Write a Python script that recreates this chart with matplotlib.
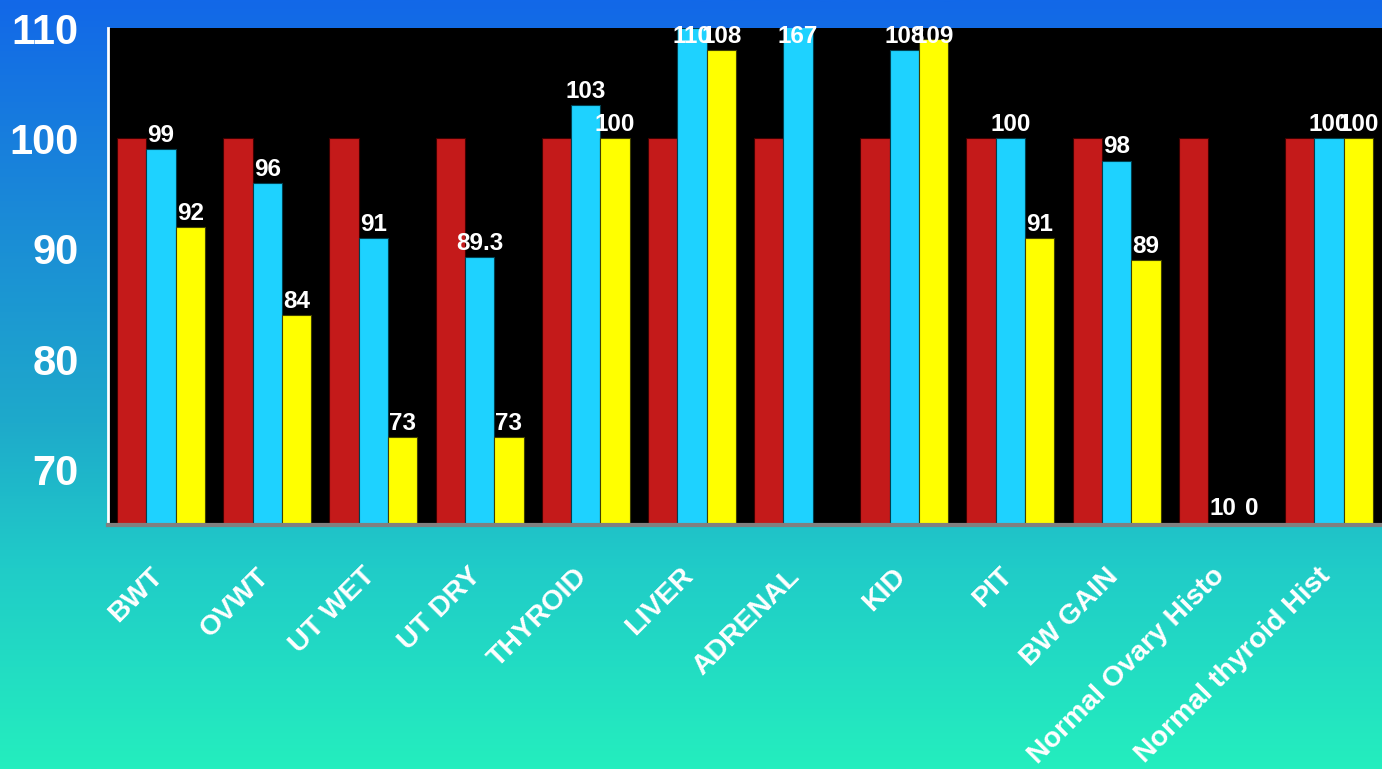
import numpy as np
import matplotlib
matplotlib.use("Agg")
import matplotlib.pyplot as plt
from matplotlib.colors import LinearSegmentedColormap
import matplotlib.transforms as mtransforms
from matplotlib import font_manager as fm

# pick regular-width Liberation Sans Bold explicitly
bold_path = None
for f in fm.fontManager.ttflist:
    if f.name == 'Liberation Sans' and f.weight in (700, 'bold') and f.style == 'normal' \
            and 'Narrow' not in f.fname:
        bold_path = f.fname
        break

def fp(size):
    if bold_path:
        return dict(fontproperties=fm.FontProperties(fname=bold_path, size=size))
    return dict(family='DejaVu Sans', fontweight='bold', fontsize=size)

categories = ["BWT", "OVWT", "UT WET", "UT DRY", "THYROID", "LIVER", "ADRENAL",
              "KID", "PIT", "BW GAIN", "Normal Ovary Histo", "Normal thyroid Hist"]
control = [100, 100, 100, 100, 100, 100, 100, 100, 100, 100, 100, 100]
series_b = [99, 96, 91, 89.3, 103, 110, 167, 108, 100, 98, 10, 100]
series_c = [92, 84, 73, 73, 100, 108, None, 109, 91, 89, 0, 100]
b_labels = ["99", "96", "91", "89.3", "103", "110", "167", "108", "100", "98", "10", "100"]
c_labels = ["92", "84", "73", "73", "100", "108", "", "109", "91", "89", "0", "100"]
yticks = [70, 80, 90, 100, 110]

W, H = 1382, 769
fig = plt.figure(figsize=(W / 100, H / 100), dpi=100)

# gradient background
bg = fig.add_axes([0, 0, 1, 1], zorder=0)
stops = [(0.0, (18/255, 104/255, 232/255)),
         (0.26, (26/255, 136/255, 216/255)),
         (0.55, (30/255, 170/255, 203/255)),
         (0.74, (32/255, 204/255, 200/255)),
         (1.0, (36/255, 238/255, 190/255))]
cmap = LinearSegmentedColormap.from_list("bgg", stops)
grad = np.linspace(0, 1, 512).reshape(-1, 1)
bg.imshow(grad, aspect='auto', cmap=cmap, extent=[0, 1, 1, 0])
bg.set_axis_off()

left, right = 108 / W, 1.0
bottom, top = (H - 525) / H, (H - 28) / H
ax = fig.add_axes([left, bottom, right - left, top - bottom], zorder=1)
ax.set_facecolor('black')

n = len(categories)
x = np.arange(n)
bw = 0.276
ymin, ymax = 65, 110

red = '#C41A1A'
cyan = '#1ED2FF'
yellow = '#FFFF00'

ax.bar(x - bw, control, bw, color=red, edgecolor='#400000', linewidth=0.8)
ax.bar(x, series_b, bw, color=cyan, edgecolor='#004050', linewidth=0.8)
c_x = [xi + bw for xi, v in zip(x, series_c) if v is not None]
c_vals = [v for v in series_c if v is not None]
ax.bar(c_x, c_vals, bw, color=yellow, edgecolor='#404000', linewidth=0.8)

ax.set_xlim(-0.5, n - 0.5)
ax.set_ylim(ymin, ymax)

def label(xp, v, txt):
    if not txt:
        return
    yv = min(max(v, 65.3), 108)
    ax.annotate(txt, (xp, yv), xytext=(0, 1.5), textcoords='offset points',
                ha='center', va='bottom', color='white', zorder=5,
                annotation_clip=False, **fp(17.5))

for xi, v, t in zip(x, series_b, b_labels):
    label(xi, v, t)
for xi, v, t in zip(x, series_c, c_labels):
    if v is not None:
        label(xi + bw, v, t)

# axes styling
for s in ['top', 'right']:
    ax.spines[s].set_visible(False)
ax.spines['left'].set_color('white')
ax.spines['left'].set_linewidth(2)
ax.spines['bottom'].set_color('#808080')
ax.spines['bottom'].set_linewidth(3)

ax.set_yticks(yticks)
ax.set_yticklabels([str(t) for t in yticks], color='white', **fp(30))
ax.tick_params(axis='y', length=0, pad=21)
ax.set_xticks([])

trans = mtransforms.blended_transform_factory(ax.transData, ax.transAxes)
off = mtransforms.ScaledTranslation(7 / 100, -38 / 100, fig.dpi_scale_trans)
for xi, name in zip(x, categories):
    ax.text(xi, 0, name, transform=trans + off, rotation=45, ha='right', va='top',
            color='white', **fp(20.5))

fig.savefig('out.png', dpi=100)
